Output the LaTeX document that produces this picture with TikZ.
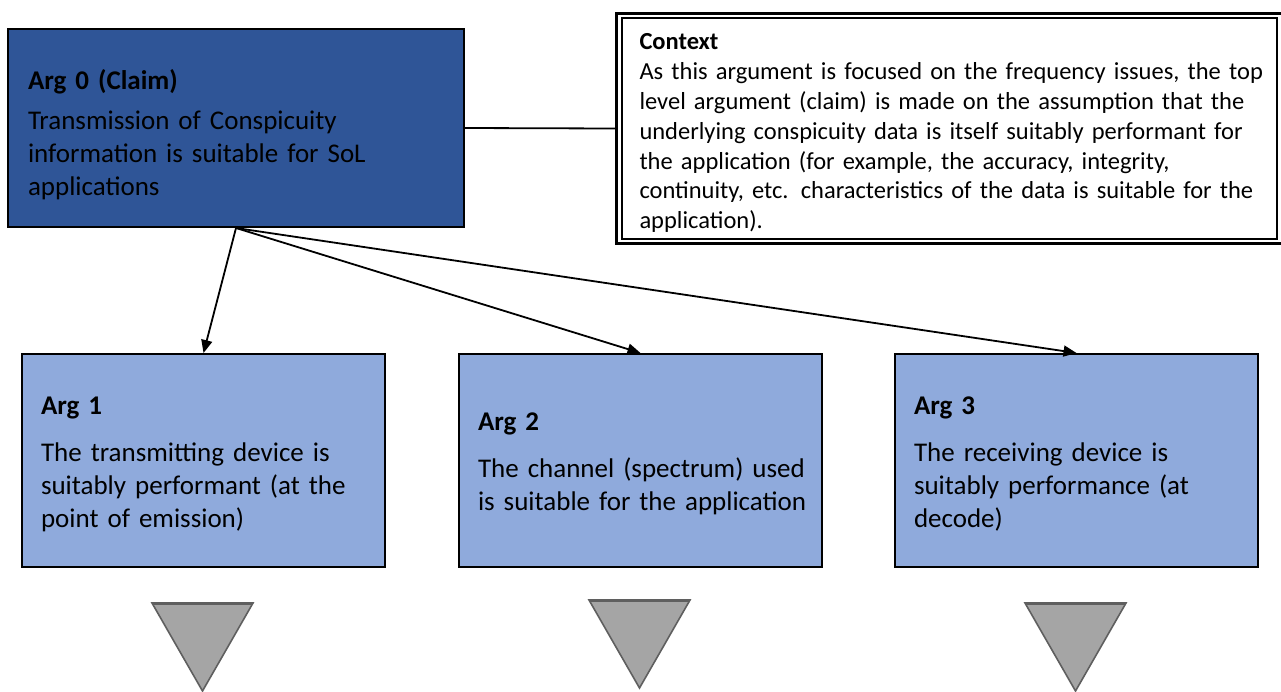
\documentclass[tikz,border=0pt]{standalone}
\usepackage{fontspec}
\setmainfont{Carlito}
\usetikzlibrary{arrows.meta}
\definecolor{claimblue}{HTML}{2F5597}
\definecolor{argblue}{HTML}{8FAADC}
\definecolor{undevfill}{HTML}{A5A5A5}
\definecolor{undevline}{HTML}{5F5F5F}
% indented heading line: left indent, strut height, bold title
\newcommand\boxhead[3]{\leftskip=#1\relax\textbf{\rule{0pt}{#2}#3}}
\begin{document}
\begin{tikzpicture}[x=1pt,y=-1pt,
  claimbox/.style={draw=black, line width=2pt, fill=claimblue, anchor=north west,
    minimum width=456pt, minimum height=198pt, text width=444pt, inner xsep=6pt,
    inner ysep=0pt, align=left, font=\fontsize{27}{33}\selectfont},
  argbox/.style={draw=black, line width=2pt, fill=argblue, anchor=north west,
    minimum width=363pt, minimum height=213pt, text width=351pt, inner xsep=6pt,
    inner ysep=0pt, align=left, font=\fontsize{27}{33}\selectfont},
  ctxbox/.style={draw=black, line width=3pt, fill=white, anchor=north west,
    minimum width=666pt, minimum height=230pt, text width=654pt, inner xsep=6pt,
    inner ysep=0pt, align=left, font=\fontsize{24.5}{29.8}\selectfont},
  link/.style={draw=black, line width=1.8pt},
  support/.style={link, -{Triangle[length=13pt,width=11pt]}},
  undev/.style={fill=undevfill, draw=undevline, line width=1.6pt, line join=miter}
]
\useasboundingbox (0,0) rectangle (1281,691);

% top-level claim
\node[claimbox] (arg0) at (7,28) {\boxhead{14pt}{34pt}{Arg 0 (Claim)}\\[7pt]
  Transmission of Conspicuity\\ information is suitable for SoL\\ applications\par};

% context note with double border
\node[ctxbox] (ctx) at (615,12) {\boxhead{17pt}{25.5pt}{Context}\\
  As this argument is focused on the frequency issues, the top\\
  level argument (claim) is made on the assumption that the\\
  underlying conspicuity data is itself suitably performant for\\
  the application (for example, the accuracy, integrity,\\
  continuity, etc. characteristics of the data is suitable for the\\
  application).\par};
\draw[line width=1.5pt] ([shift={(7,6)}]ctx.north west) rectangle ([shift={(-7,-6)}]ctx.south east);

% sub-arguments
\node[argbox] (arg1) at (21,353) {\boxhead{13pt}{25pt}{Arg 1}\\[14pt]
  The transmitting device is\\ suitably performant (at the\\ point of emission)\par};
\node[argbox] (arg2) at (458,353) {\boxhead{13pt}{25pt}{Arg 2}\\[14pt]
  The channel (spectrum) used\\ is suitable for the application\par};
\node[argbox] (arg3) at (894,353) {\boxhead{13pt}{25pt}{Arg 3}\\[14pt]
  The receiving device is\\ suitably performance (at\\ decode)\par};

% connectors
\draw[link] (arg0.east) -- (ctx.west);
\draw[support] (arg0.south) -- (arg1.north);
\draw[support] (arg0.south) -- (arg2.north);
\draw[support] (arg0.south) -- (arg3.north);

% undeveloped markers
\foreach \xl/\yt in {152/603, 589/600, 1025/603} {
  \filldraw[undev] (\xl,\yt) -- ++(101,0) -- ++(-50.5,88) -- cycle;
  \draw[undevline, line width=3pt] (\xl,\yt) -- ++(101,0);
}
\end{tikzpicture}
\end{document}
